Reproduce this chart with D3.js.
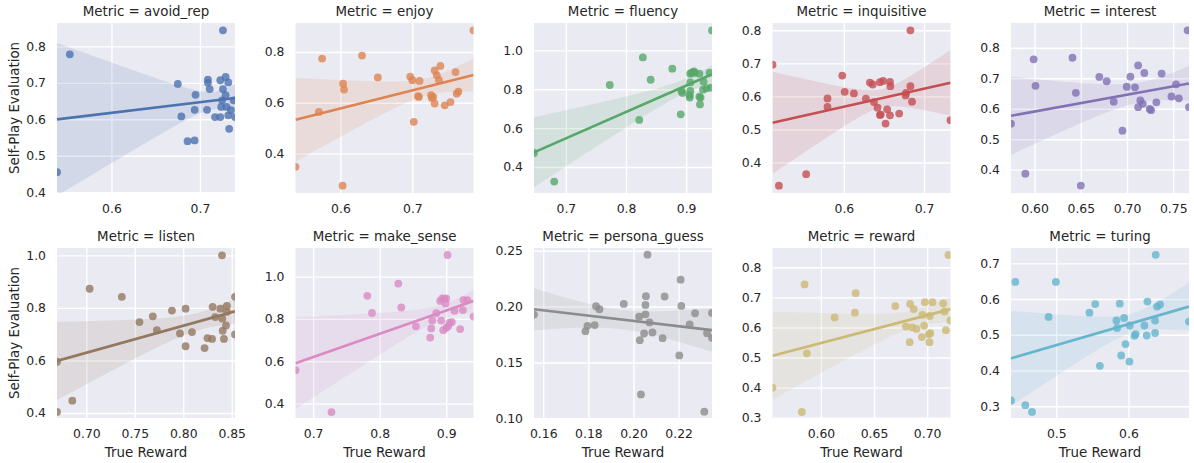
<!DOCTYPE html>
<html>
<head>
<meta charset="utf-8">
<script src="https://cdn.jsdelivr.net/npm/d3@7"></script>
<style>
body { margin: 0; background: #fff; }
text { font-family: "DejaVu Sans", sans-serif; fill: #262626; }
</style>
</head>
<body>
<svg width="1194" height="463"></svg>
<script>
var metrics = ["avoid_rep", "enjoy", "fluency", "inquisitive", "interest",
	"listen", "make_sense", "persona_guess", "reward", "turing"];
var colors = ["#4c72b0", "#dd8452", "#55a868", "#c44e52", "#8172b3",
	"#937860", "#da8bc3", "#8c8c8c", "#ccb974", "#64b5cd"];

// true reward (x) / self-play evaluation (y) per metric
var avoidRepX = [0.5385,0.553,0.726,0.675,0.679,0.695,0.694,0.686,0.694,0.709,0.709,0.711,0.708,0.717,0.723,0.726,0.729,0.732,0.725,0.729,0.724,0.723,0.730,0.732,0.733,0.735,0.738,0.7396];
var avoidRepY = [0.455,0.778,0.844,0.697,0.608,0.667,0.626,0.540,0.542,0.709,0.700,0.683,0.626,0.606,0.707,0.683,0.716,0.701,0.652,0.666,0.634,0.606,0.634,0.611,0.574,0.625,0.652,0.606];
var enjoyX = [0.5375,0.570,0.5745,0.6037,0.605,0.603,0.630,0.652,0.697,0.700,0.710,0.708,0.709,0.702,0.726,0.727,0.729,0.731,0.731,0.734,0.739,0.737,0.745,0.753,0.760,0.7616,0.764,0.785];
var enjoyY = [0.348,0.564,0.774,0.675,0.652,0.274,0.786,0.700,0.703,0.689,0.686,0.626,0.623,0.525,0.630,0.619,0.623,0.597,0.727,0.708,0.745,0.689,0.590,0.603,0.721,0.636,0.644,0.885];
var fluencyX = [0.647,0.6806,0.773,0.822,0.828,0.841,0.877,0.891,0.892,0.894,0.9067,0.909,0.913,0.914,0.922,0.907,0.907,0.906,0.906,0.922,0.924,0.923,0.928,0.929,0.934,0.939,0.941,0.943];
var fluencyY = [0.472,0.325,0.822,0.642,0.964,0.849,0.906,0.671,0.791,0.781,0.880,0.885,0.892,0.885,0.880,0.835,0.791,0.769,0.757,0.762,0.757,0.722,0.798,0.839,0.805,0.885,0.808,1.103];
var inquisitiveX = [0.511,0.519,0.553,0.5796,0.5796,0.598,0.601,0.6125,0.6275,0.6325,0.636,0.6375,0.642,0.645,0.649,0.645,0.646,0.654,0.652,0.6575,0.658,0.6575,0.669,0.677,0.6775,0.683,0.683,0.685,0.733];
var inquisitiveY = [0.696,0.330,0.365,0.594,0.568,0.663,0.614,0.609,0.593,0.642,0.636,0.583,0.566,0.643,0.647,0.544,0.545,0.561,0.518,0.644,0.631,0.543,0.548,0.603,0.611,0.800,0.631,0.584,0.528];
var interestX = [0.5745,0.590,0.599,0.601,0.641,0.6446,0.650,0.670,0.678,0.6856,0.695,0.6996,0.7036,0.7086,0.712,0.7144,0.712,0.717,0.7187,0.7245,0.726,0.7317,0.7374,0.748,0.753,0.756,0.7655,0.767];
var interestY = [0.551,0.387,0.762,0.675,0.767,0.652,0.348,0.704,0.690,0.623,0.528,0.672,0.705,0.670,0.742,0.627,0.605,0.616,0.717,0.599,0.595,0.621,0.715,0.640,0.680,0.634,0.857,0.605];
var listenX = [0.6697,0.6697,0.6855,0.7034,0.7366,0.7548,0.7686,0.7728,0.7883,0.7966,0.8024,0.8024,0.809,0.822,0.825,0.8297,0.8303,0.833,0.8383,0.840,0.8403,0.8407,0.842,0.845,0.845,0.8441,0.8534,0.8534];
var listenY = [0.595,0.404,0.447,0.873,0.842,0.746,0.768,0.715,0.790,0.703,0.797,0.654,0.708,0.647,0.685,0.682,0.804,0.765,0.797,1.000,0.759,0.713,0.682,0.808,0.785,0.733,0.842,0.699];
var makeSenseX = [0.6735,0.7275,0.7815,0.7885,0.828,0.8325,0.8545,0.876,0.8775,0.879,0.885,0.891,0.8925,0.894,0.897,0.900,0.899,0.8955,0.900,0.903,0.905,0.9085,0.902,0.9125,0.921,0.925,0.926,0.932,0.941];
var makeSenseY = [0.558,0.360,0.909,0.828,0.967,0.854,0.765,0.712,0.755,0.792,0.827,0.885,0.792,0.897,0.895,0.897,0.873,0.747,0.758,0.765,0.782,0.785,1.102,0.839,0.752,0.842,0.889,0.889,0.811];
var personaX = [0.1559,0.1787,0.1796,0.1828,0.1834,0.1849,0.1957,0.2025,0.2028,0.2033,0.2047,0.2053,0.2053,0.2055,0.2062,0.2071,0.2084,0.2129,0.2138,0.2203,0.2209,0.2212,0.2249,0.2273,0.2314,0.2326,0.2348,0.2348];
var personaY = [0.1928,0.178,0.1828,0.1834,0.2003,0.1976,0.2024,0.1910,0.1699,0.1214,0.1759,0.1931,0.2015,0.2093,0.2464,0.1858,0.1768,0.1717,0.2090,0.1563,0.2241,0.2006,0.1840,0.1940,0.1060,0.1762,0.1943,0.172];
var rewardX = [0.5544,0.582,0.5846,0.5868,0.6129,0.632,0.6327,0.670,0.680,0.6836,0.684,0.686,0.6874,0.690,0.695,0.6956,0.6972,0.6978,0.7016,0.7022,0.7025,0.703,0.705,0.7151,0.7163,0.7176,0.722,0.7201];
var rewardY = [0.400,0.319,0.743,0.514,0.633,0.649,0.714,0.671,0.603,0.551,0.678,0.600,0.661,0.595,0.568,0.642,0.606,0.684,0.577,0.551,0.638,0.581,0.684,0.680,0.653,0.591,0.623,0.841];
var turingX = [0.4373,0.4433,0.4571,0.4664,0.4894,0.4995,0.546,0.554,0.5604,0.5834,0.5843,0.588,0.5899,0.594,0.5959,0.6014,0.6018,0.6083,0.61,0.6221,0.6253,0.6263,0.6369,0.6369,0.6378,0.6396,0.6438,0.6839];
var turingY = [0.316,0.648,0.303,0.284,0.550,0.648,0.562,0.586,0.413,0.540,0.519,0.587,0.442,0.547,0.474,0.425,0.526,0.497,0.502,0.526,0.498,0.593,0.540,0.505,0.724,0.579,0.585,0.537];

var xValues = [avoidRepX, enjoyX, fluencyX, inquisitiveX, interestX, listenX, makeSenseX, personaX, rewardX, turingX];
var yValues = [avoidRepY, enjoyY, fluencyY, inquisitiveY, interestY, listenY, makeSenseY, personaY, rewardY, turingY];

var yDomains = [[0.398, 0.864], [0.245, 0.914], [0.266, 1.141], [0.308, 0.822], [0.3235, 0.881],
	[0.381, 1.028], [0.332, 1.135], [0.1003, 0.2524], [0.299, 0.864], [0.267, 0.743]];

var xTickLabels = [["0.6","0.7"], ["0.6","0.7"], ["0.7","0.8","0.9"], ["0.6","0.7"], ["0.60","0.65","0.70","0.75"],
	["0.70","0.75","0.80","0.85"], ["0.7","0.8","0.9"], ["0.16","0.18","0.20","0.22"], ["0.60","0.65","0.70"], ["0.5","0.6"]];
var yTickLabels = [["0.4","0.5","0.6","0.7","0.8"], ["0.4","0.6","0.8"], ["0.4","0.6","0.8","1.0"], ["0.4","0.5","0.6","0.7","0.8"], ["0.4","0.5","0.6","0.7","0.8"],
	["0.4","0.6","0.8","1.0"], ["0.4","0.6","0.8","1.0"], ["0.10","0.15","0.20","0.25"], ["0.3","0.4","0.5","0.6","0.7","0.8"], ["0.3","0.4","0.5","0.6","0.7"]];

var svg = d3.select("svg");
var panelW = 178, panelH = 170;
var lefts = [57, 295.5, 534, 772.5, 1011];
var tops = [23, 248];

function fitLine(xs, ys) {
	// least squares line; the band uses a robust (sandwich) variance, which
	// behaves roughly like the bootstrap band seaborn draws
	var n = xs.length, mx = d3.mean(xs), my = d3.mean(ys);
	var sxx = d3.sum(xs, function(d) { return (d - mx) * (d - mx); });
	var sxy = d3.sum(xs, function(d, k) { return (d - mx) * (ys[k] - my); });
	var b = sxy / sxx, a = my - b * mx;
	var v00 = 0, v01 = 0, v11 = 0;
	xs.forEach(function(d, k) {
		var c = d - mx;
		var e = ys[k] - a - b * d;
		var w = e * e * n / (n - 2);
		v00 += w / (n * n);
		v01 += w * c / (n * sxx);
		v11 += w * c * c / (sxx * sxx);
	});
	return {
		at: function(x0) { return a + b * x0; },
		se: function(x0) {
			var dd = x0 - mx;
			return Math.sqrt(v00 + 2 * dd * v01 + dd * dd * v11);
		}
	};
}

metrics.forEach(function(metric, i) {
	var col = i % 5, row = Math.floor(i / 5);
	var xs = xValues[i], ys = yValues[i], color = colors[i];
	var g = svg.append("g").attr("transform", "translate(" + lefts[col] + "," + tops[row] + ")");

	var x = d3.scaleLinear().domain(d3.extent(xs)).range([0, panelW]);
	var y = d3.scaleLinear().domain(yDomains[i]).range([panelH, 0]);

	g.append("rect").attr("width", panelW).attr("height", panelH).attr("fill", "#eaeaf2");

	g.append("clipPath").attr("id", "clip" + i)
		.append("rect").attr("width", panelW).attr("height", panelH);

	var xAxis = g.append("g")
		.attr("transform", "translate(0," + panelH + ")")
		.call(d3.axisBottom(x)
			.tickValues(xTickLabels[i].map(Number))
			.tickFormat(function(d, k) { return xTickLabels[i][k]; })
			.tickSize(-panelH).tickPadding(11));
	var yAxis = g.append("g")
		.call(d3.axisLeft(y)
			.tickValues(yTickLabels[i].map(Number))
			.tickFormat(function(d, k) { return yTickLabels[i][k]; })
			.tickSize(-panelW).tickPadding(11));

	[xAxis, yAxis].forEach(function(ax) {
		ax.select(".domain").remove();
		ax.selectAll("line").attr("stroke", "#fff").attr("stroke-width", 1.4);
		ax.selectAll("text").attr("font-size", 12.4).attr("fill", "#262626");
		ax.attr("font-family", null);
	});

	var fit = fitLine(xs, ys);
	var dom = x.domain();
	var grid = d3.range(0, 101).map(function(k) { return dom[0] + (dom[1] - dom[0]) * k / 100; });
	var z = 1.96;

	var plot = g.append("g").attr("clip-path", "url(#clip" + i + ")");

	plot.append("path")
		.datum(grid)
		.attr("fill", color)
		.attr("fill-opacity", 0.15)
		.attr("d", d3.area()
			.x(function(d) { return x(d); })
			.y0(function(d) { return y(fit.at(d) - z * fit.se(d)); })
			.y1(function(d) { return y(fit.at(d) + z * fit.se(d)); }));

	plot.selectAll(".dot")
		.data(xs)
		.enter()
		.append("circle")
		.attr("class", "dot")
		.attr("cx", function(d) { return x(d); })
		.attr("cy", function(d, k) { return y(ys[k]); })
		.attr("r", 3.9)
		.attr("fill", color)
		.attr("fill-opacity", 0.8);

	plot.append("path")
		.datum(dom)
		.attr("fill", "none")
		.attr("stroke", color)
		.attr("stroke-width", 2.6)
		.attr("d", d3.line()
			.x(function(d) { return x(d); })
			.y(function(d) { return y(fit.at(d)); }));

	g.append("text")
		.attr("x", panelW / 2)
		.attr("y", -7)
		.attr("text-anchor", "middle")
		.attr("font-size", 13.4)
		.text("Metric = " + metric);

	if (row === 1) {
		g.append("text")
			.attr("x", panelW / 2)
			.attr("y", panelH + 39)
			.attr("text-anchor", "middle")
			.attr("font-size", 13.4)
			.text("True Reward");
	}
	if (col === 0) {
		g.append("text")
			.attr("transform", "translate(-38," + (panelH / 2) + ") rotate(-90)")
			.attr("text-anchor", "middle")
			.attr("font-size", 13.4)
			.text("Self-Play Evaluation");
	}
});
</script>
</body>
</html>
